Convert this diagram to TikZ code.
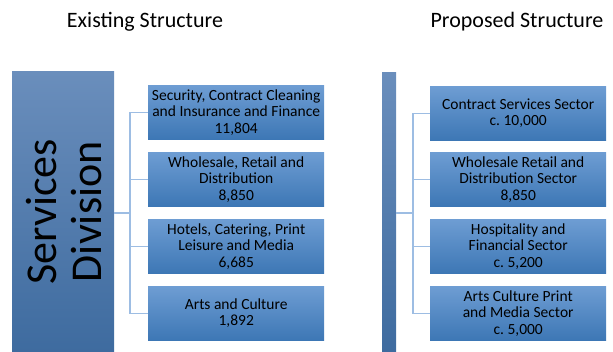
\documentclass[tikz,border=0pt]{standalone}
\usepackage{fontspec}
\setmainfont{Carlito}
\frenchspacing
\definecolor{boxtop}{HTML}{6E9DD3}
\definecolor{boxbot}{HTML}{3D77B5}
\definecolor{bigtop}{HTML}{6A8EBC}
\definecolor{bigbot}{HTML}{3E6B9F}
\definecolor{conn}{HTML}{9DBDE3}
\tikzset{
  childbox/.style={draw=none, top color=boxtop, bottom color=boxbot, minimum width=176pt, minimum height=54pt, anchor=north west, align=center, inner sep=1pt, font=\fontsize{15.5}{16.5}\selectfont, text=black},
  bigbox/.style={draw=none, top color=bigtop, bottom color=bigbot, anchor=north west, inner sep=0pt},
  link/.style={draw=conn, line width=1.2pt},
  title/.style={font=\fontsize{22}{24}\selectfont}
}
\begin{document}
\begin{tikzpicture}[x=1pt,y=-1pt]
\useasboundingbox (0,0) rectangle (613,352);
\node[title] (t1) at (145,22) {Existing Structure};
\node[title] (t2) at (517,22) {Proposed Structure};
% left
\node[bigbox, minimum width=102pt, minimum height=281pt] (sd) at (12,71) {};
\node[rotate=90, align=center, font=\fontsize{44}{45}\selectfont] (sdt) at ([xshift=1pt]sd.center) {Services\\Division};
\node[childbox] (a1) at (148,85) {Security, Contract Cleaning\\and Insurance and Finance\\11,804};
\node[childbox] (a2) at (148,152) {Wholesale, Retail and\\Distribution\\8,850};
\node[childbox] (a3) at (148,219) {Hotels, Catering, Print\\Leisure and Media\\6,685};
\node[childbox] (a4) at (148,286) {Arts and Culture\\1,892};
\coordinate (lj) at (130,213);
\draw[link] (sd.east |- lj) -- (lj);
\draw[link] (a1.west) -| (lj);
\draw[link] (a4.west) -| (lj);
\draw[link] (a2.west) -- (a2.west -| lj);
\draw[link] (a3.west) -- (a3.west -| lj);
% right
\node[bigbox, minimum width=14pt, minimum height=280pt] (ps) at (382,72) {};
\node[childbox] (b1) at (430,86) {Contract Services Sector\\c. 10,000};
\node[childbox] (b2) at (430,152) {Wholesale Retail and\\Distribution Sector\\8,850};
\node[childbox] (b3) at (430,219) {Hospitality and\\Financial Sector\\c. 5,200};
\node[childbox] (b4) at (430,286) {Arts Culture Print\\and Media Sector\\c. 5,000};
\coordinate (rj) at (413,213);
\draw[link] (ps.east |- rj) -- (rj);
\draw[link] (b1.west) -| (rj);
\draw[link] (b4.west) -| (rj);
\draw[link] (b2.west) -- (b2.west -| rj);
\draw[link] (b3.west) -- (b3.west -| rj);
\end{tikzpicture}
\end{document}
